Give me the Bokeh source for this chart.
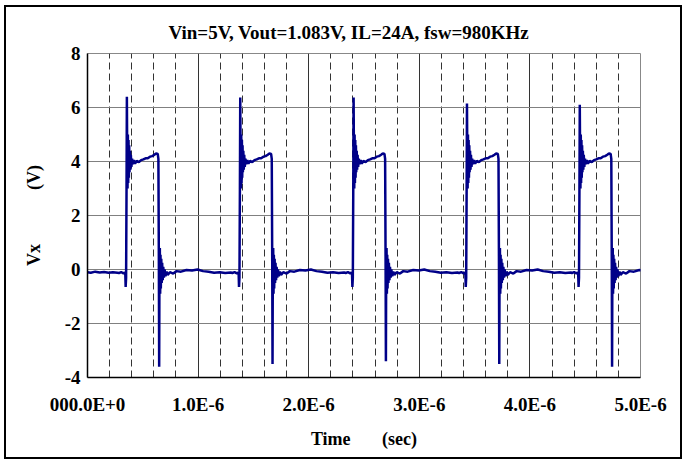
import numpy as np
from bokeh.plotting import figure
from bokeh.models import FixedTicker, Range1d, ColumnDataSource
from bokeh.embed import file_html
from bokeh.resources import INLINE

# ---------------- data ----------------
title_text = "Vin=5V, Vout=1.083V, IL=24A, fsw=980KHz"
x_ticks_us = [0, 1, 2, 3, 4, 5]
x_tick_labels = ["000.0E+0", "1.0E-6", "2.0E-6", "3.0E-6", "4.0E-6", "5.0E-6"]
y_ticks = [-4, -2, 0, 2, 4, 6, 8]
y_tick_labels = ["-4", "-2", "0", "2", "4", "6", "8"]

# per-pulse readings (time in microseconds, volts)
rise_times_us = [0.345, 1.370, 2.395, 3.420, 4.440]
spike_peaks_v = [6.40, 6.37, 6.37, 6.15, 6.10]
spike_mins_v = [-3.60, -3.50, -3.40, -3.50, -3.60]

# baseline before the first pulse
lead_t_us = [0.00, 0.03, 0.07, 0.11, 0.15, 0.19, 0.23, 0.27]
lead_v = [-0.10, -0.12, -0.08, -0.11, -0.09, -0.12, -0.10, -0.12]

# shape of one switching cycle (offset from rise, volts)
# the entries "PEAK" and "MIN" take the per-pulse readings above
cycle_dt_us = [-0.060, -0.040, -0.020, -0.008, -0.003, 0.000, 0.004, 0.008,
               0.011, 0.014, 0.017, 0.020, 0.023, 0.026, 0.029, 0.032, 0.035,
               0.039, 0.043, 0.047, 0.052, 0.058, 0.065, 0.075, 0.085, 0.100,
               0.120, 0.140, 0.160, 0.180, 0.200, 0.220, 0.240, 0.260, 0.275,
               0.290, 0.296, 0.300, 0.303, 0.306, 0.309, 0.312, 0.315, 0.318,
               0.322, 0.326, 0.330, 0.335, 0.340, 0.346, 0.352, 0.360, 0.370,
               0.380, 0.400, 0.430, 0.460, 0.500, 0.550, 0.600, 0.650, 0.700,
               0.750, 0.800, 0.850, 0.900, 0.950]
cycle_v = [-0.13, -0.10, -0.14, -0.12, -0.20, -0.65, -0.30, 3.00,
           "PEAK", 4.20, 3.00, 5.00, 3.20, 4.80, 3.40, 4.60, 3.60,
           4.40, 3.70, 4.25, 3.80, 4.10, 3.90, 4.05, 3.92, 4.02,
           3.98, 4.05, 4.08, 4.12, 4.12, 4.18, 4.20, 4.25, 4.30,
           4.28, 4.10, 0.50, "MIN", 0.60, 0.80, -0.90, 0.55, -0.70,
           0.40, -0.50, 0.25, -0.40, 0.10, -0.30, 0.00, -0.25, -0.08,
           -0.20, -0.10, -0.15, -0.06, -0.08, -0.02, -0.04, 0.00, -0.06,
           -0.08, -0.12, -0.10, -0.13, -0.11]

# ---------------- build the trace table ----------------
t_all = list(lead_t_us)
v_all = list(lead_v)
for tr, pk, mn in zip(rise_times_us, spike_peaks_v, spike_mins_v):
    for dt, v in zip(cycle_dt_us, cycle_v):
        t_all.append(tr + dt)
        if v == "PEAK":
            v_all.append(pk)
        elif v == "MIN":
            v_all.append(mn)
        else:
            v_all.append(v)
src = ColumnDataSource(data=dict(t=t_all, v=v_all))

SERIF = "Liberation Serif"

p = figure(width=678, height=454,
           x_range=Range1d(0, 5), y_range=Range1d(-4, 8),
           output_backend="svg", toolbar_location=None,
           min_border_left=81, min_border_right=44,
           min_border_top=46, min_border_bottom=84)
p.styles = {"border": "2px solid black", "margin-left": "4px", "margin-top": "5px"}
p.background_fill_color = "white"
p.border_fill_color = "white"
p.outline_line_color = "#888888"
p.outline_line_width = 1

p.title.text = title_text
p.title.align = "left"
p.title.offset = 81
p.title.standoff = 22
p.title.text_font = SERIF
p.title.text_font_style = "bold"
p.title.text_font_size = "19px"
p.title.text_color = "black"

xt = FixedTicker(ticks=x_ticks_us, minor_ticks=[i / 5 for i in range(26) if i % 5])
p.xaxis.ticker = xt
p.xaxis.major_label_overrides = {k: s for k, s in zip(x_ticks_us, x_tick_labels)}
p.yaxis.ticker = FixedTicker(ticks=y_ticks)
p.yaxis.major_label_overrides = {k: s for k, s in zip(y_ticks, y_tick_labels)}

for ax in (p.xaxis[0], p.yaxis[0]):
    ax.axis_line_color = "black"
    ax.axis_line_width = 1.5
    ax.major_tick_in = 0
    ax.major_tick_out = 0
    ax.minor_tick_in = 0
    ax.minor_tick_out = 0
    ax.major_label_text_font = SERIF
    ax.major_label_text_font_style = "bold"
    ax.major_label_text_font_size = "19px"
    ax.major_label_text_color = "black"
    ax.axis_label_text_font = SERIF
    ax.axis_label_text_font_style = "bold"
    ax.axis_label_text_font_size = "18px"
    ax.axis_label_text_color = "black"

nb = "\u00a0"
p.xaxis.axis_label = "Time" + nb * 7 + "(sec)"
p.yaxis.axis_label = "Vx" + nb * 12 + "(V)"
p.xaxis.major_label_standoff = 16
p.yaxis.major_label_standoff = 7
p.xaxis.axis_label_standoff = 11
p.yaxis.axis_label_standoff = 18

p.xgrid.grid_line_color = "#333333"
p.xgrid.grid_line_width = 1
p.xgrid.minor_grid_line_color = "#333333"
p.xgrid.minor_grid_line_dash = "7 4"
p.xgrid.minor_grid_line_width = 1
p.ygrid.grid_line_color = "#808080"
p.ygrid.grid_line_width = 1

p.line("t", "v", source=src, line_color="#000088", line_width=2.5)

open("out.html", "w").write(file_html(p, INLINE))
